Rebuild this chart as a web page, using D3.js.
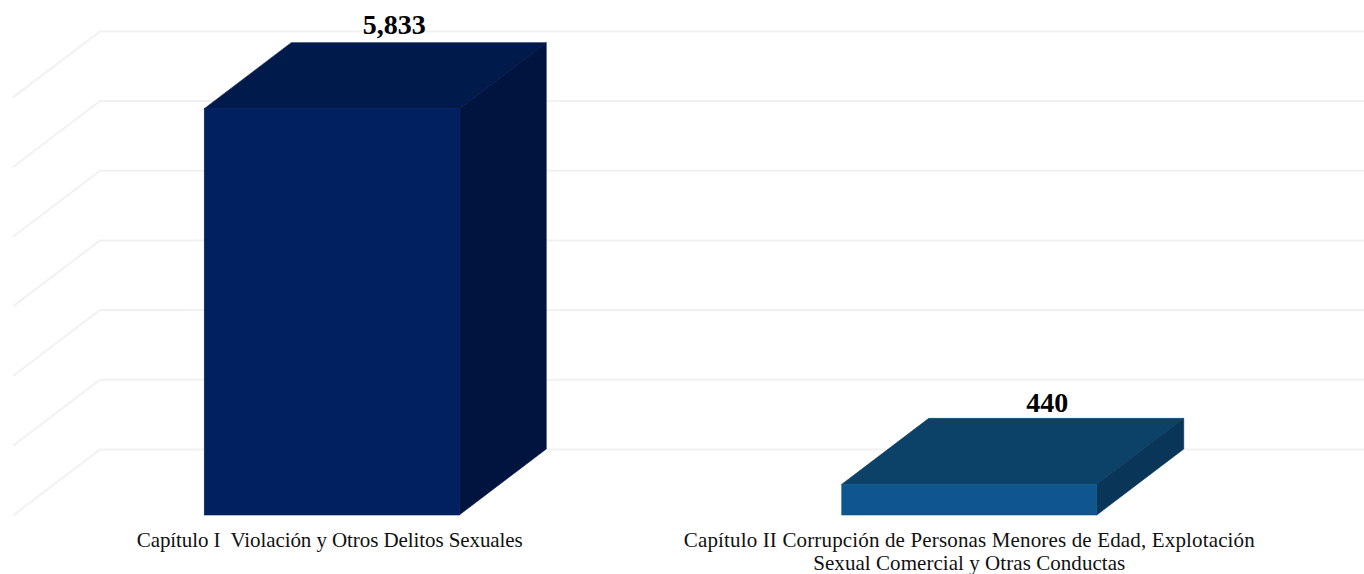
<!DOCTYPE html>
<html>
<head>
<meta charset="utf-8">
<script src="https://d3js.org/d3.v7.min.js"></script>
<style>
  html, body { margin: 0; padding: 0; background: #fff; }
  svg { display: block; }
  .cat text { font-family: "Liberation Serif", serif; font-size: 21px; fill: #111; white-space: pre; }
  .val { font-family: "Liberation Serif", serif; font-size: 28px; font-weight: bold; fill: #000; text-anchor: middle; }
</style>
</head>
<body>
<div id="chart"></div>
<script>
// data
var categories = ["Capítulo I", "Capítulo II"];
var categoryLines = [
  ["Capítulo I  Violación y Otros Delitos Sexuales"],
  ["Capítulo II Corrupción de Personas Menores de Edad, Explotación", "Sexual Comercial y Otras Conductas"]
];
var values = [5833, 440];
var tickValues = [0, 1000, 2000, 3000, 4000, 5000, 6000];

var frontColors = ["#012060", "#0f568e"];
var topColors = ["#011a4c", "#0c4168"];
var sideColors = ["#00143f", "#093558"];

var svgWidth = 1364;
var svgHeight = 574;

// how far the "3d" floor goes back
var depthX = 87;
var depthY = 66;
var baseY = 515;

var svg = d3.select("#chart")
  .append("svg")
  .attr("width", svgWidth)
  .attr("height", svgHeight);

var xScale = d3.scaleBand()
  .domain(categories)
  .range([13, 1288])
  .paddingInner(0.6)
  .paddingOuter(0.3);

var yScale = d3.scaleLinear()
  .domain([0, 6000])
  .range([baseY, baseY - 418]);

// gridlines, back wall and left wall
var grid = svg.append("g").attr("fill", "none").attr("stroke", "#f1f1f1").attr("stroke-width", 2);
grid.selectAll("path")
  .data(tickValues)
  .enter()
  .append("path")
  .attr("d", d => {
    var y = yScale(d) + 0.4;
    return `M13,${y} L${13 + depthX},${y - depthY} L${svgWidth},${y - depthY}`;
  });

// bars
var bars = svg.selectAll("g.bar")
  .data(values)
  .enter()
  .append("g")
  .attr("class", "bar");

bars.append("path")
  .attr("fill", (d, i) => topColors[i])
  .attr("stroke", (d, i) => topColors[i])
  .attr("stroke-width", 0.6)
  .attr("d", (d, i) => {
    var x0 = xScale(categories[i]), x1 = x0 + xScale.bandwidth(), y = yScale(d);
    return `M${x0},${y} L${x0 + depthX},${y - depthY} L${x1 + depthX},${y - depthY} L${x1},${y} Z`;
  });

bars.append("path")
  .attr("fill", (d, i) => sideColors[i])
  .attr("stroke", (d, i) => sideColors[i])
  .attr("stroke-width", 0.6)
  .attr("d", (d, i) => {
    var x1 = xScale(categories[i]) + xScale.bandwidth(), y = yScale(d);
    return `M${x1},${y} L${x1 + depthX},${y - depthY} L${x1 + depthX},${baseY - depthY} L${x1},${baseY} Z`;
  });

bars.append("rect")
  .attr("x", (d, i) => xScale(categories[i]))
  .attr("y", d => yScale(d))
  .attr("width", xScale.bandwidth())
  .attr("height", d => baseY - yScale(d))
  .attr("fill", (d, i) => frontColors[i])
  .attr("stroke", (d, i) => frontColors[i])
  .attr("stroke-width", 0.6);

// value labels
var labelShiftX = [62.5, 78];
var labelShiftY = [9, 6.5];
svg.selectAll("text.val")
  .data(values)
  .enter()
  .append("text")
  .attr("class", "val")
  .attr("x", (d, i) => xScale(categories[i]) + xScale.bandwidth() / 2 + labelShiftX[i])
  .attr("y", (d, i) => yScale(d) - depthY - labelShiftY[i])
  .text(d => d3.format(",")(d));

// category axis, labels only
var bottomAxis = d3.axisBottom(xScale).tickSize(0).tickFormat("");
var axisG = svg.append("g")
  .attr("class", "cat")
  .attr("transform", `translate(0, ${baseY})`)
  .call(bottomAxis);
axisG.select(".domain").remove();

// line widths measured on the reference, the font is a bit narrower than the original one
var lineWidths = [[386], [571, 312]];
axisG.selectAll(".tick text")
  .attr("y", 0)
  .attr("dy", 0)
  .each(function(d, i) {
    var t = d3.select(this);
    categoryLines[i].forEach(function(line, j) {
      t.append("tspan")
        .attr("x", i == 0 ? -2 : 0)
        .attr("y", 32 + j * 22.5)
        .attr("textLength", lineWidths[i][j])
        .text(line);
    });
  });
</script>
</body>
</html>
